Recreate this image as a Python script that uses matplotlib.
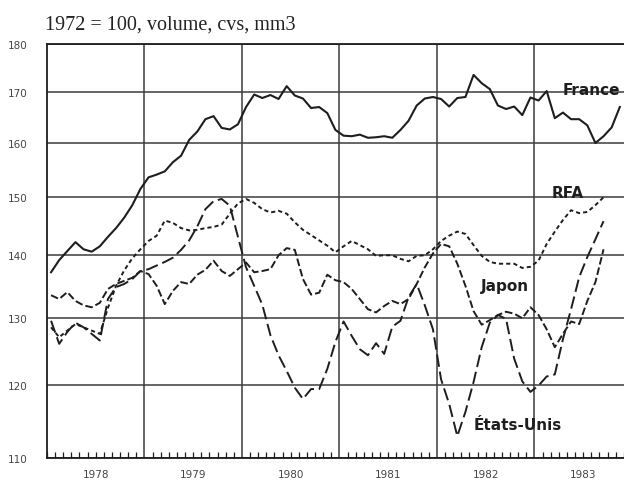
import numpy as np
import matplotlib
matplotlib.use('Agg')
import matplotlib.pyplot as plt

# monthly values, 1972 = 100, 3-month moving average, from Jan 1978
france = [137.2, 139.2, 140.7, 142.2, 141.0, 140.6, 141.5, 143.1, 144.6, 146.4, 148.6, 151.5,
          153.6, 154.1, 154.7, 156.4, 157.6, 160.6, 162.2, 164.6, 165.2, 162.9, 162.6, 163.6,
          167.0, 169.5, 168.8, 169.4, 168.6, 171.2, 169.3, 168.7, 166.8, 167.0, 165.8, 162.5,
          161.4, 161.3, 161.6, 161.0, 161.1, 161.3, 161.0, 162.5, 164.3, 167.3, 168.7, 169.0,
          168.6, 167.1, 168.8, 169.0, 173.5, 171.8, 170.6, 167.3, 166.6, 167.1, 165.4, 168.9,
          168.3, 170.2, 164.8, 165.9, 164.6, 164.6, 163.4, 160.0, 161.3, 163.0, 167.0]
rfa = [128.5, 127.0, 128.0, 129.0, 128.5, 128.0, 127.5, 131.5, 135.0, 137.5, 139.5, 141.0,
       142.4, 143.3, 145.9, 145.5, 144.6, 144.2, 144.3, 144.6, 144.8, 145.2, 147.1, 148.9,
       149.7, 149.0, 147.9, 147.3, 147.6, 147.1, 145.6, 144.3, 143.4, 142.5, 141.6, 140.5,
       141.5, 142.4, 141.7, 141.0, 139.9, 140.0, 140.0, 139.4, 139.0, 139.9, 140.0, 141.0,
       142.4, 143.3, 144.0, 143.6, 141.7, 139.9, 138.9, 138.6, 138.6, 138.6, 137.9, 138.1,
       139.1, 141.9, 144.0, 146.0, 147.7, 147.2, 147.4, 148.6, 150.0]
japon = [133.5, 132.9, 134.0, 132.6, 131.9, 131.6, 132.3, 134.5, 135.3, 135.8, 136.3, 137.4,
         136.9, 135.0, 132.1, 134.2, 135.6, 135.3, 136.8, 137.6, 139.1, 137.4, 136.6, 137.7,
         138.8, 137.2, 137.4, 137.7, 140.0, 141.2, 140.9, 136.1, 133.6, 133.9, 136.8, 135.9,
         135.6, 134.5, 132.9, 131.3, 130.8, 131.8, 132.6, 132.1, 132.9, 135.3, 138.0, 140.3,
         141.9, 141.5, 138.6, 135.0, 131.0, 128.9, 129.6, 130.4, 130.9, 130.6, 129.9, 131.6,
         130.4, 128.2, 125.5, 127.5, 129.4, 129.0, 132.6, 135.6, 141.0]
etats_unis = [129.5, 126.0, 127.8, 129.2, 128.5, 127.5, 126.5, 132.9, 134.8, 135.3, 136.1, 137.4,
              137.7, 138.3, 138.9, 139.6, 140.9, 142.5, 144.9, 147.9, 149.3, 149.7, 148.5, 143.1,
              138.0, 135.0, 132.0, 127.3, 124.3, 122.0, 119.6, 118.0, 119.4, 119.4, 122.3, 126.3,
              129.4, 127.2, 125.2, 124.3, 126.1, 124.5, 128.6, 129.5, 133.2, 135.3, 131.9, 128.2,
              120.8, 117.3, 112.9, 116.2, 120.4, 125.5, 129.2, 130.4, 129.8, 123.8, 120.5, 119.0,
              119.9, 121.2, 121.5, 126.7, 131.3, 136.4, 139.7, 142.7, 145.8]

years = [1978, 1979, 1980, 1981, 1982, 1983]
y_ticks = [110, 120, 130, 140, 150, 160, 170, 180]


def month_x(values):
    # mid-month positions in decimal years
    return 1978 + (np.arange(len(values)) + 0.5) / 12


plt.rcParams['lines.scale_dashes'] = False
ink = '#1e1e1e'
grid_c = '#3c3c3c'

fig = plt.figure(figsize=(6.24, 4.81), dpi=100)
ax = fig.add_axes([47 / 624, 1 - 459 / 481, 577 / 624, 414 / 481])

ax.plot(month_x(france), france, color=ink, lw=1.5)
ax.plot(month_x(rfa), rfa, color=ink, lw=1.4, dashes=(3, 2.2))
ax.plot(month_x(japon), japon, color=ink, lw=1.4, dashes=(5.5, 2.2))
ax.plot(month_x(etats_unis), etats_unis, color=ink, lw=1.4, dashes=(9, 3.5))

ax.set_yscale('log')
ax.set_ylim(110, 180)
ax.set_xlim(1978, 1983.918)
ax.set_yticks(y_ticks, [str(v) for v in y_ticks])
ax.yaxis.set_minor_locator(plt.NullLocator())
ax.tick_params(axis='y', length=0, pad=14, labelsize=7.5, labelcolor='#444444')

ax.set_xticks(years[1:], [''] * len(years[1:]))
ax.set_xticks(np.arange(1978, 1984, 1 / 12), minor=True)
ax.tick_params(axis='x', which='major', length=0)
ax.tick_params(axis='x', which='minor', direction='in', length=4, width=0.9, color=ink)
for yr in years:
    ax.text(yr + 0.5, -0.038, str(yr), transform=ax.get_xaxis_transform(),
            ha='center', va='center', fontsize=7.5, color='#444444')

ax.grid(True, which='major', color=grid_c, lw=1.1)
ax.set_axisbelow(True)
for side in ['left', 'top', 'bottom']:
    ax.spines[side].set_color(ink)
    ax.spines[side].set_linewidth(1.3)
ax.spines['right'].set_visible(False)

lab = dict(ha='center', va='center', fontsize=11, fontweight='bold',
           family='DejaVu Sans', color=ink)
ax.text(1983.58, 170.6, 'France', **lab)
ax.text(1983.34, 150.9, 'RFA', **lab)
ax.text(1982.70, 135.1, 'Japon', **lab)
ax.text(1982.83, 114.5, 'États-Unis', **lab)

fig.text(45 / 624, 1 - 30 / 481, '1972 = 100, volume, cvs, mm3',
         family='Liberation Serif', fontsize=14.5, va='baseline', color='#222222')

fig.savefig('out.png', dpi=100)
